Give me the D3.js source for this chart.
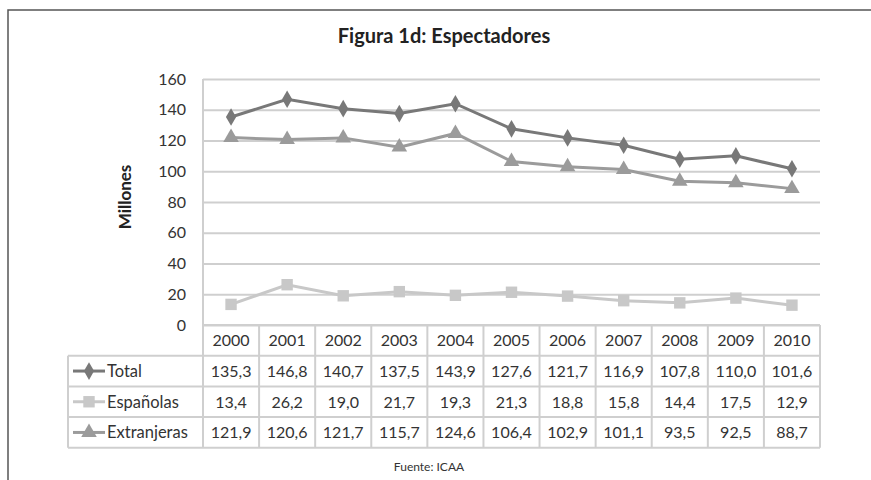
<!DOCTYPE html>
<html>
<head>
<meta charset="utf-8">
<script src="https://cdn.jsdelivr.net/npm/d3@7"></script>
<style>
  body { margin: 0; background: #fff; }
  svg text { font-family: Lato, "Open Sans", sans-serif; fill: #333; }
</style>
</head>
<body>
<div id="chart"></div>
<script>
// data (millions of spectators)
const years = ['2000', '2001', '2002', '2003', '2004', '2005', '2006', '2007', '2008', '2009', '2010'];
const total = [135.3, 146.8, 140.7, 137.5, 143.9, 127.6, 121.7, 116.9, 107.8, 110.0, 101.6];
const espanolas = [13.4, 26.2, 19.0, 21.7, 19.3, 21.3, 18.8, 15.8, 14.4, 17.5, 12.9];
const extranjeras = [121.9, 120.6, 121.7, 115.7, 124.6, 106.4, 102.9, 101.1, 93.5, 92.5, 88.7];
const yTicks = [0, 20, 40, 60, 80, 100, 120, 140, 160];

const series = [
  { name: 'Total', values: total, color: '#787878', symbol: d3.symbolDiamond, size: 90 },
  { name: 'Españolas', values: espanolas, color: '#c8c8c8', symbol: d3.symbolSquare, size: 130 },
  { name: 'Extranjeras', values: extranjeras, color: '#9b9b9b', symbol: d3.symbolTriangle, size: 105 }
];

const W = 871, H = 480;
const pLeft = 203, pRight = 820, pTop = 79, pBottom = 325;
const rowH = 30.7, tableLeft = 68;

const svg = d3.select('#chart').append('svg')
  .attr('width', W)
  .attr('height', H);

// outer frame (top and left edges only are visible)
svg.append('path')
  .attr('d', 'M8,480V10H871')
  .attr('fill', 'none')
  .attr('stroke', '#555')
  .attr('stroke-width', 1.5);

svg.append('text')
  .attr('x', 444).attr('y', 43)
  .attr('text-anchor', 'middle')
  .style('font-size', '20px').style('font-weight', 'bold')
  .style('fill', '#222')
  .text('Figura 1d: Espectadores');

const x = d3.scaleBand().domain(years).range([pLeft, pRight]);
const y = d3.scaleLinear().domain([0, 160]).range([pBottom, pTop]);

// gridlines + y labels
const yAxis = svg.append('g')
  .attr('transform', `translate(${pLeft},0)`)
  .call(d3.axisLeft(y).tickValues(yTicks).tickSize(-(pRight - pLeft)).tickPadding(17));
yAxis.select('.domain').remove();
yAxis.selectAll('.tick line').attr('stroke', '#cfcfcf').attr('stroke-width', 2);
yAxis.selectAll('.tick text').style('font-size', '16px').style('fill', '#333');

svg.append('line')
  .attr('x1', pLeft).attr('x2', pLeft).attr('y1', pTop).attr('y2', pBottom)
  .attr('stroke', '#cfcfcf').attr('stroke-width', 2);

svg.append('text')
  .attr('transform', 'translate(131,197) rotate(-90)')
  .attr('text-anchor', 'middle')
  .style('font-size', '17px').style('font-weight', 'bold')
  .style('fill', '#222')
  .text('Millones');

// lines and markers
const line = d3.line()
  .x((d, i) => x(years[i]) + x.bandwidth() / 2)
  .y(d => y(d));

series.forEach(s => {
  svg.append('path')
    .datum(s.values)
    .attr('d', line)
    .attr('fill', 'none')
    .attr('stroke', s.color)
    .attr('stroke-width', 3);
  svg.selectAll(null)
    .data(s.values)
    .join('path')
    .attr('transform', (d, i) => `translate(${x(years[i]) + x.bandwidth() / 2},${y(d)})`)
    .attr('d', d3.symbol().type(s.symbol).size(s.size))
    .attr('fill', s.color);
});

// data table
const tbl = svg.append('g');
const gridColor = '#cfcfcf';
const rowsTop = pBottom + rowH;
const tableBottom = pBottom + rowH * 4;

// horizontal lines
[pBottom, rowsTop, rowsTop + rowH, rowsTop + rowH * 2, tableBottom].forEach((yy, i) => {
  tbl.append('line')
    .attr('x1', i === 0 ? pLeft : tableLeft).attr('x2', pRight)
    .attr('y1', yy).attr('y2', yy)
    .attr('stroke', gridColor).attr('stroke-width', 2);
});
// vertical lines
tbl.append('line')
  .attr('x1', tableLeft).attr('x2', tableLeft)
  .attr('y1', rowsTop).attr('y2', tableBottom)
  .attr('stroke', gridColor).attr('stroke-width', 2);
years.concat(['end']).forEach((yr, i) => {
  const xx = i < years.length ? x(yr) : pRight;
  tbl.append('line')
    .attr('x1', xx).attr('x2', xx)
    .attr('y1', pBottom).attr('y2', tableBottom)
    .attr('stroke', gridColor).attr('stroke-width', 2);
});

// header
tbl.selectAll('.yr')
  .data(years)
  .join('text')
  .attr('x', d => x(d) + x.bandwidth() / 2)
  .attr('y', pBottom + rowH / 2 + 6)
  .attr('text-anchor', 'middle')
  .style('font-size', '16px')
  .text(d => d);

const fmt = v => v.toFixed(1).replace('.', ',');

series.forEach((s, r) => {
  const cy = rowsTop + rowH * r + rowH / 2;
  tbl.append('line')
    .attr('x1', 73).attr('x2', 105)
    .attr('y1', cy).attr('y2', cy)
    .attr('stroke', s.color).attr('stroke-width', 3);
  tbl.append('path')
    .attr('transform', `translate(89,${cy})`)
    .attr('d', d3.symbol().type(s.symbol).size(s.size))
    .attr('fill', s.color);
  tbl.append('text')
    .attr('x', 107).attr('y', cy + 6)
    .style('font-size', '16.5px')
    .text(s.name);
  tbl.selectAll(null)
    .data(s.values)
    .join('text')
    .attr('x', (d, i) => x(years[i]) + x.bandwidth() / 2)
    .attr('y', cy + 6)
    .attr('text-anchor', 'middle')
    .style('font-size', '16px')
    .text(fmt);
});

svg.append('text')
  .attr('x', 429).attr('y', 471)
  .attr('text-anchor', 'middle')
  .style('font-size', '12px')
  .text('Fuente: ICAA');
</script>
</body>
</html>
